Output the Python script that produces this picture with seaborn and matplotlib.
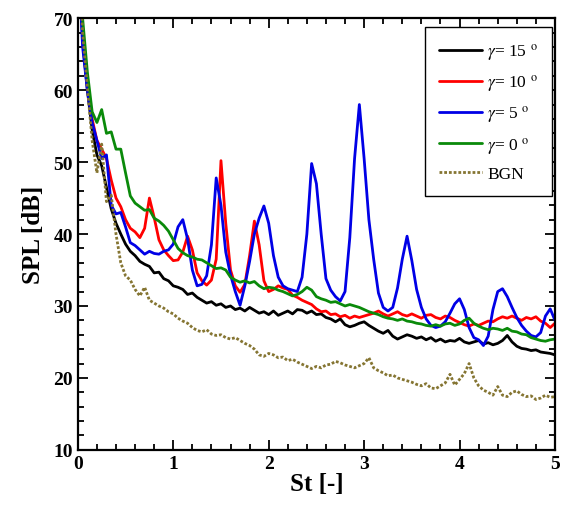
import numpy as np
import pandas as pd
import matplotlib
matplotlib.use("Agg")
import matplotlib.pyplot as plt
import seaborn as sns

# Strouhal number grid (0.00 ... 5.00, step 0.05)
st = np.round(np.arange(0, 101) * 0.05, 2)

spl_15 = [82, 67, 60, 54.5, 51, 49.5, 46.5, 43.5, 41.5, 40, 38.6,
          37.6, 37, 36.2, 35.8, 35.5, 34.6, 34.7, 33.8, 33.5, 32.8,
          32.6, 32.3, 31.6, 31.8, 31.2, 30.8, 30.4, 30.6, 30.1, 30.3,
          29.8, 30.0, 29.5, 29.7, 29.3, 29.8, 29.4, 29.0, 29.2, 28.8,
          29.3, 28.7, 29.0, 29.3, 28.9, 29.5, 29.4, 29.0, 29.3, 28.8,
          28.9, 28.4, 28.2, 27.8, 28.2, 27.4, 27.1, 27.3, 27.6, 27.8,
          27.3, 26.9, 26.5, 26.2, 26.6, 25.8, 25.4, 25.7, 26.0, 25.8,
          25.5, 25.7, 25.3, 25.6, 25.1, 25.4, 25.0, 25.2, 25.1, 25.5,
          25.0, 24.8, 25.0, 25.2, 24.7, 24.9, 24.6, 24.8, 25.2, 25.9,
          25.0, 24.4, 24.1, 24.0, 23.8, 23.9, 23.6, 23.5, 23.4, 23.2]

spl_10 = [84, 68, 61, 56, 53, 51.8, 50.5, 47.5, 45, 43.8, 42,
          40.8, 40.3, 39.5, 40.8, 45.0, 42.3, 39.2, 37.8, 37.0, 36.3,
          36.4, 37.5, 39.7, 37.8, 34.6, 33.5, 32.9, 33.6, 36.5, 50.2,
          41.5, 35.0, 32.8, 31.9, 33.0, 37.0, 41.8, 38.5, 33.5, 32.0,
          32.3, 32.8, 32.5, 32.3, 31.5, 31.2, 30.8, 30.5, 30.2, 29.6,
          29.2, 29.3, 28.8, 28.9, 28.5, 28.7, 28.3, 28.6, 28.4, 28.6,
          28.8, 29.0, 29.3, 28.9, 28.6, 28.9, 29.2, 28.8, 28.6, 28.9,
          28.6, 28.3, 28.7, 28.8, 28.4, 28.2, 28.6, 28.4, 28.0, 27.7,
          27.4, 27.2, 27.5, 27.3, 27.6, 27.9, 27.8, 28.2, 28.5, 28.3,
          28.6, 28.3, 28.0, 28.4, 28.2, 28.5, 27.9, 27.6, 27.0, 27.6]

spl_5 = [80, 66, 60, 55.5, 53, 50.5, 51, 44, 42.8, 43, 41,
         38.8, 38.4, 37.8, 37.2, 37.6, 37.3, 37.2, 37.6, 37.8, 38.6,
         41.0, 42.0, 39.3, 35.0, 32.8, 33.0, 34.2, 38.5, 47.8, 44.0,
         37.5, 34.3, 32.0, 30.1, 32.8, 36.2, 40.0, 42.2, 43.9, 41.5,
         37.0, 34.0, 32.8, 32.4, 32.2, 32.0, 34.0, 40.0, 49.8, 47.0,
         40.0, 33.8, 32.2, 31.3, 30.7, 32.0, 39.5, 50.5, 58.0, 50.5,
         42.0, 36.5, 31.8, 29.8, 29.3, 29.8, 32.5, 36.5, 39.7, 36.3,
         32.3, 29.8, 28.2, 27.3, 27.0, 27.2, 27.8, 29.0, 30.3, 31.0,
         29.5, 27.0, 25.6, 25.3, 24.5, 25.8, 29.5, 32.0, 32.4, 31.3,
         29.8, 28.4, 27.3, 26.5, 25.9, 25.7, 26.3, 28.6, 29.6, 28.0]

spl_0 = [86, 70, 62.5, 57, 55.5, 57.3, 54.0, 54.2, 51.8, 51.8, 48.5,
         45.3, 44.3, 43.8, 43.3, 43.4, 42.2, 41.8, 41.2, 40.4, 39.2,
         38.0, 37.4, 37.0, 36.8, 36.5, 36.4, 36.0, 35.6, 35.2, 35.3,
         35.0, 34.0, 33.6, 33.3, 33.5, 33.2, 33.4, 32.8, 32.4, 32.6,
         32.5, 32.2, 32.0, 31.7, 31.4, 31.6, 32.0, 32.6, 32.2, 31.3,
         31.0, 30.8, 30.5, 30.6, 30.3, 30.0, 30.2, 30.0, 29.8, 29.5,
         29.2, 29.0, 28.8, 28.5, 28.3, 28.2, 28.0, 28.2, 27.9, 27.8,
         27.6, 27.5, 27.3, 27.2, 27.4, 27.2, 27.5, 27.6, 27.3, 27.5,
         28.0, 28.3, 27.6, 27.2, 26.9, 26.7, 26.9, 26.8, 26.6, 26.9,
         26.5, 26.4, 26.1, 26.0, 25.6, 25.4, 25.2, 25.1, 25.3, 25.4]

spl_bgn = [82, 68, 60.5, 53, 48.5, 52.5, 44.5, 45.4, 40, 36, 34.2,
           33.6, 32.3, 31.4, 32.6, 30.8, 30.4, 30.0, 29.7, 29.2, 28.9,
           28.3, 27.9, 27.6, 27.0, 26.6, 26.4, 26.7, 26.1, 25.9, 26.0,
           25.6, 25.4, 25.6, 25.2, 24.8, 24.5, 24.0, 23.2, 23.0, 23.4,
           23.2, 22.8, 22.9, 22.4, 22.6, 22.2, 21.9, 21.6, 21.3, 21.6,
           21.4, 21.8, 21.9, 22.3, 22.1, 21.8, 21.6, 21.4, 21.7, 22.0,
           22.8, 21.4, 21.0, 20.7, 20.3, 20.4, 20.0, 19.8, 19.6, 19.4,
           19.1, 18.9, 19.2, 18.6, 18.5, 18.9, 19.3, 20.5, 19.0, 19.8,
           20.6, 22.0, 20.0, 18.9, 18.3, 18.0, 17.6, 18.8, 17.6, 17.4,
           18.0, 18.2, 17.7, 17.4, 17.5, 17.0, 17.2, 17.6, 17.3, 17.4]

labels = [r"$\gamma$= 15 $^{\rm o}$", r"$\gamma$= 10 $^{\rm o}$",
          r"$\gamma$= 5 $^{\rm o}$", r"$\gamma$= 0 $^{\rm o}$", "BGN"]
colors = ["#000000", "#FF0000", "#0000E6", "#0A8A0A", "#857532"]
series = [spl_15, spl_10, spl_5, spl_0, spl_bgn]

sns.set_style("ticks")
plt.rcParams["font.family"] = ["Liberation Serif", "DejaVu Serif"]
plt.rcParams["mathtext.fontset"] = "stix"
for key in ["text.color", "axes.labelcolor", "xtick.color", "ytick.color",
            "axes.edgecolor"]:
    plt.rcParams[key] = "black"

fig = plt.figure(figsize=(5.64, 5.06), dpi=100)
ax = fig.add_axes([0.138, 0.109, 0.846, 0.853])

for vals, lab, col in zip(series, labels, colors):
    df = pd.DataFrame({"St": st, "SPL": vals})
    if lab == "BGN":
        sns.lineplot(data=df, x="St", y="SPL", ax=ax, color=col, label=lab,
                     lw=2.0, linestyle=(0, (1.0, 0.7)))
    else:
        sns.lineplot(data=df, x="St", y="SPL", ax=ax, color=col, label=lab,
                     lw=2.0)

ax.set_xlim(0, 5)
ax.set_ylim(10, 70)
ax.set_xticks([0, 1, 2, 3, 4, 5])
ax.set_yticks([10, 20, 30, 40, 50, 60, 70])
ax.set_xticks(np.arange(0, 5.01, 0.2), minor=True)
ax.set_yticks(np.arange(10, 70.1, 2), minor=True)
ax.tick_params(which="both", direction="in", top=True, right=True,
               width=1.3, labelsize=14, colors="black")
ax.tick_params(which="major", length=7)
ax.tick_params(which="minor", length=4)
for lbl in ax.get_xticklabels() + ax.get_yticklabels():
    lbl.set_fontweight("bold")
for sp in ax.spines.values():
    sp.set_linewidth(1.6)
    sp.set_color("black")

ax.set_xlabel("St [-]", fontsize=18, fontweight="bold", labelpad=0,
              color="black")
ax.set_ylabel("SPL [dB]", fontsize=18, fontweight="bold", labelpad=6,
              color="black")

leg = ax.legend(loc="upper right", bbox_to_anchor=(0.994, 0.979),
                borderaxespad=0, fontsize=12.5, handlelength=2.5,
                handletextpad=0.3, labelspacing=0.6, fancybox=False,
                edgecolor="black", framealpha=1, borderpad=0.8)
leg.get_frame().set_linewidth(1.0)
for t in leg.get_texts():
    t.set_color("black")

fig.savefig("out.png", dpi=100)
